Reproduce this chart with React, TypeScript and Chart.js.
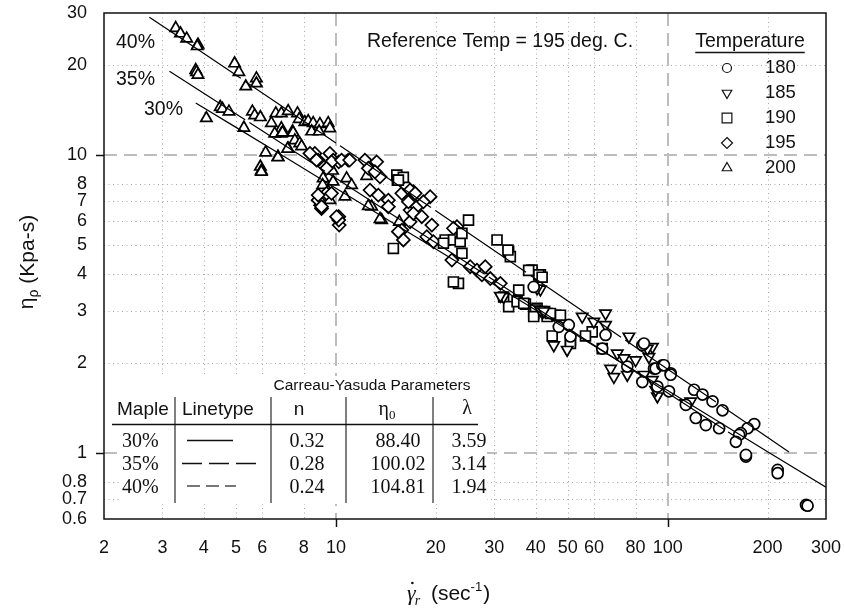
import React, { useEffect, useRef } from 'react';
import { Chart, registerables } from 'chart.js';

Chart.register(...registerables);

const SANS = '"Liberation Sans", Arial, Helvetica, sans-serif';
const SERIF = '"Liberation Serif", "Times New Roman", serif';

// ---------- axes ----------
const X_MIN = 2;
const X_MAX = 300;
const Y_MIN = 0.6;
const Y_MAX = 30;
const xTickValues = [2, 3, 4, 5, 6, 8, 10, 20, 30, 40, 50, 60, 80, 100, 200, 300];
const yTickValues = [0.6, 0.7, 0.8, 1, 2, 3, 4, 5, 6, 7, 8, 10, 20, 30];
const xMajorValues = [10, 100];
const yMajorValues = [1, 10];

// ---------- data: [shear rate, viscosity] ----------
const temp180: number[][] = [
  [39.46, 3.61], [46.96, 2.65], [50.33, 2.69], [50.92, 2.46], [64.97, 2.49], [63.49, 2.24],
  [75.55, 1.95], [83.86, 2.30], [84.8, 2.33], [90.92, 1.92], [91.99, 1.92], [96.38, 1.97],
  [97.46, 1.97], [102.1, 1.85], [102.1, 1.83], [83.86, 1.73], [93.09, 1.67], [100.9, 1.61],
  [113.4, 1.45], [120.1, 1.63], [127.3, 1.57], [136.5, 1.49], [146.3, 1.39], [121.5, 1.31],
  [130.3, 1.24], [142.9, 1.21], [182.3, 1.25], [174.1, 1.21], [166.2, 1.165], [164.2, 1.15],
  [160.5, 1.09], [172.1, 0.972], [172.1, 0.985], [214.5, 0.877], [214.5, 0.855], [261.2, 0.669],
  [264.0, 0.665],
];
const temp185: number[][] = [
  [41.34, 3.54], [42.3, 3.02], [55.24, 2.87], [59.88, 2.76], [64.97, 2.94], [64.97, 2.69],
  [45.35, 2.30], [49.77, 2.22], [76.4, 2.46], [70.47, 2.16], [73.79, 2.08], [80.04, 2.05],
  [67.28, 1.92], [68.84, 1.80], [89.91, 2.27], [87.81, 2.10], [84.8, 1.83], [89.91, 1.76],
  [93.09, 1.55], [91.99, 1.63], [32.02, 3.34], [86.84, 2.24], [75.55, 1.83], [113.4, 1.47],
  [117.3, 1.49], [31.3, 3.37], [40.4, 3.57], [41.3, 3.02], [42.3, 2.99],
];
const temp190: number[][] = [
  [15.26, 8.57], [15.32, 8.24], [15.97, 8.42], [15.43, 8.24], [25.1, 6.05], [30.59, 5.19],
  [33.16, 4.74], [33.55, 4.56], [21.34, 5.19], [22.61, 5.19], [23.69, 5.12], [23.98, 4.68],
  [23.41, 3.71], [39.02, 4.11], [41.34, 3.96], [32.02, 3.34], [33.16, 3.10], [35.56, 3.52],
  [35.16, 3.22], [37.25, 3.16], [39.46, 2.94], [40.4, 3.06], [43.31, 2.94], [45.89, 2.90],
  [14.9, 4.86], [21.09, 5.06], [23.98, 5.46], [40.86, 3.96], [41.83, 3.89], [36.82, 3.18],
  [39.93, 3.02], [39.46, 2.87], [43.31, 2.87], [44.33, 2.94], [47.51, 2.90], [44.86, 2.47],
  [50.92, 2.39], [50.92, 2.33], [59.22, 2.55], [56.52, 2.47], [63.49, 2.24], [33.0, 4.8],
  [38.1, 4.1], [22.6, 3.75],
];
const temp195: number[][] = [
  [8.64, 10.13], [8.84, 9.62], [9.59, 10.13], [9.81, 9.62], [10.2, 9.49], [10.89, 9.62],
  [12.23, 9.62], [13.27, 9.49], [13.58, 8.46], [12.52, 9.03], [13.11, 8.79], [8.35, 10.13],
  [8.74, 9.62], [9.7, 9.49], [10.4, 9.62], [11.0, 9.62], [9.37, 9.03],
  [8.84, 7.06], [9.05, 6.62], [9.37, 7.44], [10.2, 6.21], [10.23, 5.82], [8.84, 7.34],
  [9.05, 6.71], [9.7, 7.44], [10.2, 6.05], [10.05, 6.21],
  [12.67, 7.63], [13.42, 7.34], [14.39, 7.06], [15.8, 7.44], [16.36, 7.83], [17.12, 7.53],
  [16.73, 6.54], [17.53, 6.71], [15.8, 5.60], [15.97, 5.19], [16.73, 5.97], [14.39, 6.71],
  [16.73, 7.63], [17.33, 7.44], [19.23, 7.25], [16.54, 6.97], [18.35, 6.97], [17.12, 6.37],
  [18.15, 6.21], [19.46, 5.82], [15.43, 5.53], [18.79, 5.32], [19.68, 5.12], [22.36, 4.44],
  [25.4, 4.22], [23.16, 5.75], [22.61, 5.68], [26.61, 4.11], [27.55, 3.96], [29.19, 3.85],
  [31.3, 3.71], [28.19, 4.22],
];
const temp200: number[][] = [
  [3.29, 26.7], [3.4, 25.6], [3.55, 24.6], [3.84, 23.5], [3.82, 23.2],
  [3.78, 19.3], [3.8, 19.0], [3.84, 18.6],
  [4.95, 20.3], [5.1, 19.0], [5.76, 18.1], [5.76, 17.4], [5.35, 17.0],
  [4.07, 13.3], [4.48, 14.5], [4.55, 14.3], [4.76, 14.0], [5.28, 12.35],
  [5.6, 14.0], [5.69, 13.6], [5.92, 13.4], [6.59, 13.8], [6.85, 13.8], [7.18, 14.05],
  [7.66, 13.8], [7.75, 13.2], [8.06, 12.9], [8.25, 13.0], [8.54, 12.8], [8.95, 12.7],
  [9.48, 12.8], [9.59, 12.3],
  [6.39, 12.8], [6.85, 12.3], [6.54, 11.8], [6.85, 11.8], [7.4, 12.0], [7.43, 11.9],
  [6.9, 11.9], [8.45, 12.0], [8.9, 12.0], [7.52, 11.2], [7.78, 10.95], [7.88, 10.7],
  [7.18, 10.5], [7.15, 10.5],
  [6.14, 10.2], [6.69, 9.87], [6.69, 9.82], [5.92, 9.14], [5.96, 8.86], [5.96, 8.79],
  [9.77, 8.86], [9.15, 8.35], [9.12, 7.93], [9.81, 8.14], [10.77, 8.35], [11.15, 7.93],
  [9.59, 7.06], [10.65, 7.25], [9.48, 7.53], [8.95, 6.97], [12.38, 8.5], [12.82, 6.71],
  [13.74, 6.05], [15.53, 5.97], [13.58, 6.1], [12.52, 6.74],
];

// ---------- fitted Carreau-Yasuda curves ----------
const maple30X = [3.78, 5, 7, 10, 20, 40, 70, 100, 150, 200, 300];
const maple30Y = [14.97, 12.39, 9.87, 7.74, 4.84, 3.02, 2.06, 1.62, 1.23, 1.01, 0.767];
const maple35X = [3.15, 5, 7, 10, 20, 40, 70, 100, 165];
const maple35Y = [19.13, 13.75, 10.8, 8.36, 5.08, 3.08, 2.06, 1.59, 1.11];
const maple40X = [2.74, 4, 7, 10, 20, 40, 70, 100, 150, 232];
const maple40Y = [29.05, 21.95, 14.4, 10.99, 6.5, 3.84, 2.51, 1.91, 1.405, 1.008];

// ---------- legend / table text ----------
const legendLabels = ['180', '185', '190', '195', '200'];
const legendKinds = ['circle', 'down', 'square', 'diamond', 'up'];
const tableMaple = ['30%', '35%', '40%'];
const tableN = ['0.32', '0.28', '0.24'];
const tableEta0 = ['88.40', '100.02', '104.81'];
const tableLambda = ['3.59', '3.14', '1.94'];

const toPts = (arr: number[][]) => arr.map(([x, y]) => ({ x, y }));
const toLine = (xs: number[], ys: number[]) => xs.map((x, i) => ({ x, y: ys[i] }));

function drawSymbol(ctx: CanvasRenderingContext2D, kind: string, x: number, y: number, r: number) {
  ctx.beginPath();
  if (kind === 'circle') {
    ctx.arc(x, y, r, 0, Math.PI * 2);
  } else if (kind === 'up') {
    ctx.moveTo(x, y - r);
    ctx.lineTo(x + r * 0.866, y + r / 2);
    ctx.lineTo(x - r * 0.866, y + r / 2);
    ctx.closePath();
  } else if (kind === 'down') {
    ctx.moveTo(x, y + r);
    ctx.lineTo(x + r * 0.866, y - r / 2);
    ctx.lineTo(x - r * 0.866, y - r / 2);
    ctx.closePath();
  } else if (kind === 'square') {
    const s = r * 0.75;
    ctx.rect(x - s, y - s, 2 * s, 2 * s);
  } else {
    ctx.moveTo(x, y - r);
    ctx.lineTo(x + r, y);
    ctx.lineTo(x, y + r);
    ctx.lineTo(x - r, y);
    ctx.closePath();
  }
  ctx.fillStyle = '#fff';
  ctx.fill();
  ctx.stroke();
}

function hLine(ctx: CanvasRenderingContext2D, x1: number, x2: number, y: number) {
  ctx.beginPath();
  ctx.moveTo(x1, y);
  ctx.lineTo(x2, y);
  ctx.stroke();
}
function vLine(ctx: CanvasRenderingContext2D, x: number, y1: number, y2: number) {
  ctx.beginPath();
  ctx.moveTo(x, y1);
  ctx.lineTo(x, y2);
  ctx.stroke();
}

const decorPlugin = {
  id: 'decor',
  beforeDatasetsDraw(chart: any) {
    const { ctx, chartArea } = chart;
    const { left, right, top, bottom } = chartArea;
    const xs = chart.scales.x;
    const ys = chart.scales.y;
    ctx.save();
    ctx.strokeStyle = '#a8a8a8';
    ctx.lineWidth = 1;
    ctx.setLineDash([1, 3.5]);
    for (const v of xTickValues) {
      if (xMajorValues.includes(v) || v <= X_MIN || v >= X_MAX) continue;
      const p = Math.round(xs.getPixelForValue(v)) + 0.5;
      vLine(ctx, p, top, bottom);
    }
    for (const v of yTickValues) {
      if (yMajorValues.includes(v) || v <= Y_MIN || v >= Y_MAX) continue;
      const p = Math.round(ys.getPixelForValue(v)) + 0.5;
      hLine(ctx, left, right, p);
    }
    ctx.strokeStyle = '#bdbdbd';
    ctx.lineWidth = 2;
    ctx.setLineDash([13, 7]);
    for (const v of xMajorValues) {
      const p = Math.round(xs.getPixelForValue(v));
      vLine(ctx, p, top, bottom);
    }
    for (const v of yMajorValues) {
      const p = Math.round(ys.getPixelForValue(v));
      hLine(ctx, left, right, p);
    }
    ctx.restore();
  },
  afterDatasetsDraw(chart: any) {
    const { ctx, chartArea } = chart;
    const { left, right, top, bottom } = chartArea;
    const xs = chart.scales.x;
    const ys = chart.scales.y;
    ctx.save();
    ctx.setLineDash([]);

    // ---------- parameter table ----------
    ctx.fillStyle = '#fff';
    ctx.fillRect(121, 376, 366, 128);
    ctx.fillStyle = '#111';
    ctx.textBaseline = 'middle';
    ctx.textAlign = 'center';
    ctx.font = `15.5px ${SANS}`;
    ctx.fillText('Carreau-Yasuda Parameters', 372, 386);
    ctx.font = `19px ${SANS}`;
    ctx.textAlign = 'left';
    ctx.fillText('Maple', 117, 410);
    ctx.fillText('Linetype', 182, 410);
    ctx.textAlign = 'center';
    ctx.fillText('n', 299, 410);
    ctx.font = `20px ${SERIF}`;
    ctx.textAlign = 'left';
    const etaW = ctx.measureText('η').width;
    ctx.font = `13px ${SERIF}`;
    const zeroW = ctx.measureText('0').width;
    const etaX = 387 - (etaW + zeroW) / 2;
    ctx.font = `20px ${SERIF}`;
    ctx.fillText('η', etaX, 410);
    ctx.font = `13px ${SERIF}`;
    ctx.fillText('0', etaX + etaW, 416);
    ctx.font = `20px ${SERIF}`;
    ctx.textAlign = 'center';
    ctx.fillText('λ', 467, 409);

    ctx.strokeStyle = '#555';
    ctx.lineWidth = 1.5;
    for (const vx of [175, 271, 346, 433]) vLine(ctx, vx, 397, 503);
    ctx.strokeStyle = '#111';
    ctx.lineWidth = 1.3;
    hLine(ctx, 112, 478, 424.5);

    const rowY = [442, 465, 488];
    ctx.font = `20px ${SERIF}`;
    for (let i = 0; i < 3; i++) {
      ctx.fillStyle = '#111';
      ctx.textAlign = 'left';
      ctx.fillText(tableMaple[i], 122, rowY[i]);
      ctx.textAlign = 'center';
      ctx.fillText(tableN[i], 307, rowY[i]);
      ctx.fillText(tableEta0[i], 398, rowY[i]);
      ctx.fillText(tableLambda[i], 469, rowY[i]);
    }
    ctx.strokeStyle = '#111';
    ctx.lineWidth = 1.3;
    hLine(ctx, 187, 233, 440.5);
    ctx.setLineDash([20, 7]);
    hLine(ctx, 182, 256, 463.5);
    ctx.strokeStyle = '#777';
    ctx.lineWidth = 2;
    ctx.setLineDash([13, 6]);
    hLine(ctx, 187, 236, 486);
    ctx.setLineDash([]);

    // ---------- frame and major ticks ----------
    ctx.strokeStyle = '#111';
    ctx.lineWidth = 1.5;
    ctx.strokeRect(left, top, right - left, bottom - top);
    for (const v of xMajorValues) {
      const p = Math.round(xs.getPixelForValue(v)) + 0.5;
      vLine(ctx, p, bottom, bottom + 8);
    }
    for (const v of yMajorValues) {
      const p = Math.round(ys.getPixelForValue(v)) + 0.5;
      hLine(ctx, left - 8, left, p);
    }

    // ---------- annotations ----------
    ctx.fillStyle = '#111';
    ctx.font = `19.5px ${SANS}`;
    ctx.textAlign = 'left';
    ctx.textBaseline = 'middle';
    ctx.fillText('Reference Temp = 195 deg. C.', 367, 42);
    ctx.textAlign = 'center';
    ctx.fillText('40%', 135.5, 43);
    ctx.fillText('35%', 135.5, 80);
    ctx.fillText('30%', 163.5, 109.5);

    // ---------- legend ----------
    ctx.textAlign = 'center';
    ctx.fillText('Temperature', 750, 42);
    const tw = ctx.measureText('Temperature').width;
    ctx.lineWidth = 1.5;
    hLine(ctx, 750 - tw / 2, 750 + tw / 2, 52.5);
    const legY = [68, 93, 118, 143, 168];
    ctx.font = `18.5px ${SANS}`;
    ctx.textAlign = 'left';
    for (let i = 0; i < legendLabels.length; i++) {
      ctx.strokeStyle = '#111';
      ctx.lineWidth = 1.2;
      const k = legendKinds[i];
      const r = k === 'circle' ? 4.5 : k === 'square' ? 6.5 : 5.5;
      drawSymbol(ctx, k, 727, legY[i], r);
      ctx.fillStyle = '#111';
      ctx.fillText(legendLabels[i], 765, legY[i]);
    }

    // ---------- axis titles ----------
    ctx.save();
    ctx.translate(27, 262);
    ctx.rotate(-Math.PI / 2);
    ctx.font = `21px ${SANS}`;
    const wEta = ctx.measureText('η').width;
    const wRest = ctx.measureText(' (Kpa-s)').width;
    ctx.font = `14px ${SANS}`;
    const wRho = ctx.measureText('ρ').width;
    const total = wEta + wRho + wRest;
    let cx = -total / 2;
    ctx.textAlign = 'left';
    ctx.textBaseline = 'alphabetic';
    ctx.font = `21px ${SANS}`;
    ctx.fillText('η', cx, 6);
    cx += wEta;
    ctx.font = `14px ${SANS}`;
    ctx.fillText('ρ', cx, 11);
    cx += wRho;
    ctx.font = `21px ${SANS}`;
    ctx.fillText(' (Kpa-s)', cx, 7);
    ctx.restore();

    ctx.textAlign = 'left';
    ctx.textBaseline = 'alphabetic';
    let x0 = 407;
    const base = 600;
    ctx.font = `italic 22px ${SERIF}`;
    ctx.fillText('γ', x0, base);
    const gW = ctx.measureText('γ').width;
    ctx.beginPath();
    ctx.arc(x0 + gW * 0.62, base - 17, 1.3, 0, Math.PI * 2);
    ctx.fill();
    x0 += gW;
    ctx.font = `italic 14px ${SERIF}`;
    ctx.fillText('r', x0 - 1, base + 5);
    x0 += ctx.measureText('r').width + 4;
    ctx.font = `21px ${SANS}`;
    ctx.fillText(' (sec', x0, base);
    x0 += ctx.measureText(' (sec').width;
    ctx.font = `13px ${SANS}`;
    ctx.fillText('-1', x0, base - 9);
    x0 += ctx.measureText('-1').width + 1;
    ctx.font = `21px ${SANS}`;
    ctx.fillText(')', x0, base);

    ctx.restore();
  },
};

const zeroPad = (s: any) => {
  s.paddingTop = 0;
  s.paddingBottom = 0;
  s.paddingLeft = 0;
  s.paddingRight = 0;
};

export default function App() {
  const ref = useRef<HTMLCanvasElement>(null);
  useEffect(() => {
    const canvas = ref.current;
    if (!canvas) return;
    const markerBase = {
      showLine: false,
      borderColor: '#000',
      backgroundColor: '#fff',
      borderWidth: 1.7,
    };
    const lineBase = {
      showLine: true,
      pointRadius: 0,
      borderColor: '#000',
      borderWidth: 1.2,
      fill: false,
      tension: 0,
    };
    const chart = new Chart(canvas, {
      type: 'scatter',
      data: {
        datasets: [
          { ...lineBase, label: 'Maple 30%', data: toLine(maple30X, maple30Y), order: 1 },
          { ...lineBase, label: 'Maple 35%', data: toLine(maple35X, maple35Y), borderDash: [90, 5], order: 1 },
          { ...lineBase, label: 'Maple 40%', data: toLine(maple40X, maple40Y), borderDash: [110, 5], order: 1 },
          { ...markerBase, label: '180', data: toPts(temp180), pointStyle: 'circle', pointRadius: 5.5, order: 2 },
          { ...markerBase, label: '185', data: toPts(temp185), pointStyle: 'triangle', rotation: 180, pointRadius: 6.5, order: 3 },
          { ...markerBase, label: '190', data: toPts(temp190), pointStyle: 'rect', pointRadius: 7, order: 4 },
          { ...markerBase, label: '195', data: toPts(temp195), pointStyle: 'rectRot', pointRadius: 6.5, order: 5 },
          { ...markerBase, label: '200', data: toPts(temp200), pointStyle: 'triangle', pointRadius: 6.5, order: 6 },
        ] as any,
      },
      options: {
        animation: false,
        responsive: false,
        devicePixelRatio: 1,
        layout: { padding: { top: 13, right: 18, left: 0, bottom: 0 } },
        plugins: {
          legend: { display: false },
          tooltip: { enabled: false },
        },
        events: [],
        scales: {
          x: {
            type: 'logarithmic',
            min: X_MIN,
            max: X_MAX,
            afterBuildTicks: (s: any) => {
              s.ticks = xTickValues.map((v) => ({ value: v }));
            },
            afterFit: (s: any) => {
              s.height = 96;
              zeroPad(s);
            },
            grid: { display: false, drawTicks: false },
            border: { display: false },
            ticks: {
              autoSkip: false,
              maxRotation: 0,
              minRotation: 0,
              padding: 18,
              color: '#111',
              font: { family: SANS, size: 18 },
              callback: (v: any) => String(v),
            },
          },
          y: {
            type: 'logarithmic',
            min: Y_MIN,
            max: Y_MAX,
            afterBuildTicks: (s: any) => {
              s.ticks = yTickValues.map((v) => ({ value: v }));
            },
            afterFit: (s: any) => {
              s.width = 104;
              zeroPad(s);
            },
            grid: { display: false, drawTicks: false },
            border: { display: false },
            ticks: {
              autoSkip: false,
              padding: 17,
              color: '#111',
              font: { family: SANS, size: 18 },
              callback: (v: any) => String(v),
            },
          },
        },
      } as any,
      plugins: [decorPlugin],
    });
    return () => chart.destroy();
  }, []);
  return (
    <div style={{ position: 'absolute', left: 0, top: 0, width: 844, height: 615 }}>
      <canvas ref={ref} width={844} height={615} style={{ display: 'block', width: 844, height: 615 }} />
    </div>
  );
}
